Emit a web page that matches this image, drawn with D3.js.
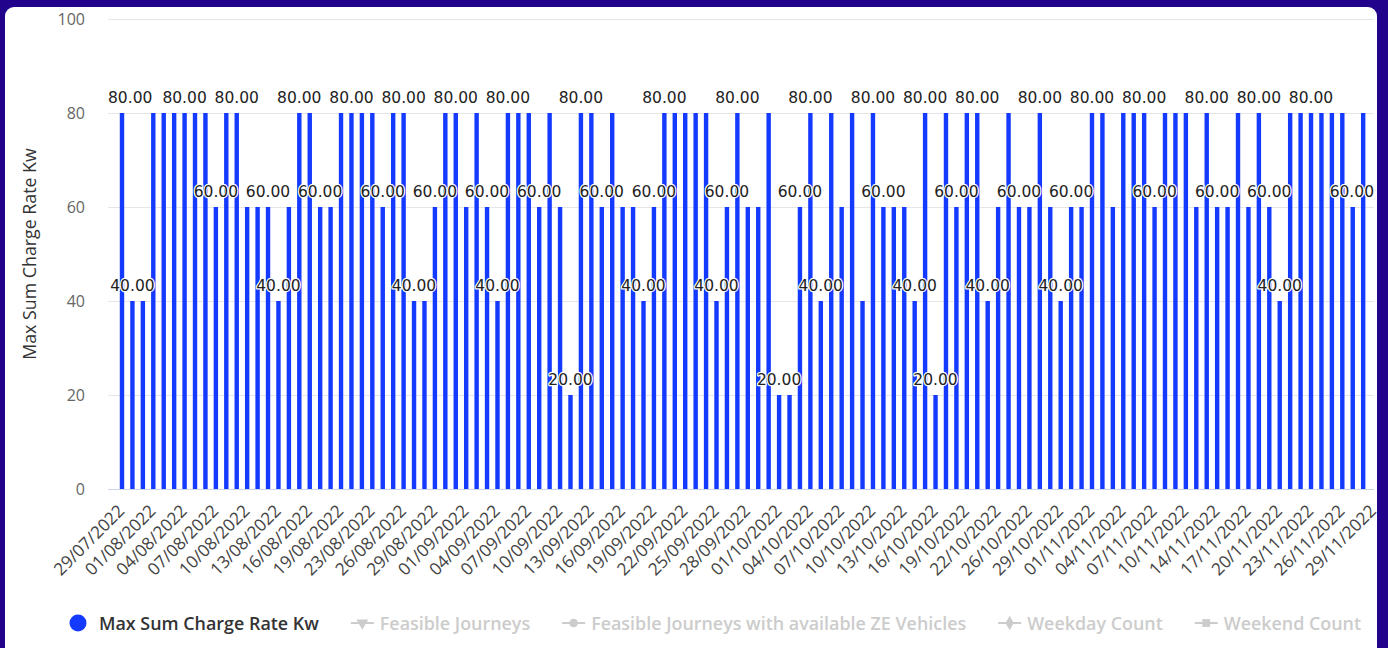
<!DOCTYPE html>
<html>
<head>
<meta charset="utf-8">
<script src="https://cdn.jsdelivr.net/npm/d3@7/dist/d3.min.js"></script>
<style>
  html, body { margin: 0; padding: 0; background: #22038b; overflow: hidden; }
  svg { display: block; }
</style>
</head>
<body>
<div id="chart"></div>
<script>
// DATA
////////////////////////////
// one category per day (a few days have no record at all)
var dates = [
  "29/07/2022","30/07/2022","31/07/2022",
  "01/08/2022","02/08/2022","03/08/2022","04/08/2022","05/08/2022","06/08/2022","07/08/2022","08/08/2022","09/08/2022","10/08/2022",
  "11/08/2022","12/08/2022","13/08/2022","14/08/2022","15/08/2022","16/08/2022","17/08/2022","18/08/2022","19/08/2022","20/08/2022",
  "22/08/2022","23/08/2022","24/08/2022","25/08/2022","26/08/2022","27/08/2022","28/08/2022","29/08/2022","30/08/2022","31/08/2022",
  "01/09/2022","02/09/2022","03/09/2022","04/09/2022","05/09/2022","06/09/2022","07/09/2022","08/09/2022","09/09/2022","10/09/2022",
  "11/09/2022","12/09/2022","13/09/2022","14/09/2022","15/09/2022","16/09/2022","17/09/2022","18/09/2022","19/09/2022","20/09/2022",
  "21/09/2022","22/09/2022","23/09/2022","24/09/2022","25/09/2022","26/09/2022","27/09/2022","28/09/2022","29/09/2022","30/09/2022",
  "01/10/2022","02/10/2022","03/10/2022","04/10/2022","05/10/2022","06/10/2022","07/10/2022","08/10/2022","09/10/2022","10/10/2022",
  "11/10/2022","12/10/2022","13/10/2022","14/10/2022","15/10/2022","16/10/2022","17/10/2022","18/10/2022","19/10/2022","20/10/2022",
  "21/10/2022","22/10/2022","24/10/2022","25/10/2022","26/10/2022","27/10/2022","28/10/2022","29/10/2022","30/10/2022","31/10/2022",
  "01/11/2022","02/11/2022","03/11/2022","04/11/2022","05/11/2022","06/11/2022","07/11/2022","08/11/2022","09/11/2022","10/11/2022",
  "11/11/2022","12/11/2022","14/11/2022","15/11/2022","16/11/2022","17/11/2022","18/11/2022","19/11/2022","20/11/2022","21/11/2022",
  "22/11/2022","23/11/2022","24/11/2022","25/11/2022","26/11/2022","27/11/2022","28/11/2022","29/11/2022"
];

// Max Sum Charge Rate Kw (null = nothing recorded)
var maxChargeRate = [
  80,40,40,80,80,80,80,80,80,60,
  80,80,60,60,60,40,60,80,80,60,
  60,80,80,80,80,60,80,80,40,40,
  60,80,80,60,80,60,40,80,80,80,
  60,80,60,20,80,80,60,80,60,60,
  40,60,80,80,80,80,80,40,60,80,
  60,60,80,20,20,60,80,40,80,60,
  80,40,80,60,60,60,40,80,20,80,
  60,80,80,40,60,80,60,60,80,60,
  40,60,60,80,80,60,80,80,80,60,
  80,80,80,60,80,60,60,80,60,80,
  60,40,80,80,80,80,80,80,60,80,
  null
];

var yTicks = [0, 20, 40, 60, 80, 100];

var legendNames = ["Max Sum Charge Rate Kw", "Feasible Journeys",
  "Feasible Journeys with available ZE Vehicles", "Weekday Count", "Weekend Count"];
var legendSymbols = ["circle", "triangle-down", "circle", "diamond", "square"];


// SETUP
////////////////////////////
var width = 1388,
    height = 648;

var plotLeft = 108, plotRight = 1374,
    plotTop = 19, plotBottom = 489;

var barColor = "#1439ff";

var svg = d3.select("#chart").append("svg")
    .attr("width", width)
    .attr("height", height);

// white card on the purple page
svg.append("rect")
    .attr("x", 5).attr("y", 7)
    .attr("width", 1372).attr("height", 680)
    .attr("rx", 9)
    .attr("fill", "#fff");

var x = d3.scalePoint()
    .domain(d3.range(dates.length))
    .range([122, 1373.6]);

var y = d3.scaleLinear()
    .domain([0, 100])
    .range([plotBottom, plotTop]);


// AXES
////////////////////////////
var yAxis = svg.append("g")
    .attr("transform", "translate(" + plotLeft + ",0)")
    .call(d3.axisLeft(y)
      .tickValues(yTicks)
      .tickSize(-(plotRight - plotLeft))
      .tickPadding(23));

yAxis.select(".domain").remove();
yAxis.selectAll("line").attr("stroke", "#e6e6e6");
yAxis.selectAll("text")
    .attr("fill", "#666")
    .style("font-family", "'Open Sans', sans-serif")
    .style("font-size", "16px");

// x axis line
svg.append("line")
    .attr("x1", plotLeft).attr("x2", plotRight)
    .attr("y1", plotBottom + 0.5).attr("y2", plotBottom + 0.5)
    .attr("stroke", "#ccd6eb");

var xAxis = svg.append("g")
    .attr("transform", "translate(0," + plotBottom + ")")
    .call(d3.axisBottom(x)
      .tickValues(d3.range(0, dates.length, 3))
      .tickFormat(function(i) { return dates[i]; })
      .tickSize(0));

xAxis.select(".domain").remove();
xAxis.selectAll("text")
    .attr("fill", "#444")
    .style("font-family", "'Open Sans', sans-serif")
    .style("font-size", "17.2px")
    .attr("text-anchor", "end")
    .attr("dy", 0)
    .attr("y", 0)
    .attr("transform", "translate(3,23) rotate(-45)");

// y axis title
svg.append("text")
    .attr("transform", "translate(36," + ((plotTop + plotBottom) / 2) + ") rotate(-90)")
    .attr("text-anchor", "middle")
    .attr("fill", "#333")
    .style("font-family", "'Open Sans', sans-serif")
    .style("font-size", "17.8px")
    .text("Max Sum Charge Rate Kw");


// BARS
////////////////////////////
var barData = maxChargeRate
    .map(function(v, i) { return {i: i, v: v}; })
    .filter(function(d) { return d.v != null; });

svg.append("g").selectAll("rect")
    .data(barData)
    .enter().append("rect")
      .attr("x", function(d) { return x(d.i) - 2.2; })
      .attr("width", 4.4)
      .attr("y", function(d) { return y(d.v); })
      .attr("height", function(d) { return plotBottom - y(d.v); })
      .attr("fill", barColor);


// DATA LABELS (hide the ones that overlap, left to right)
////////////////////////////
var labelG = svg.append("g");
var shown = [];

barData.forEach(function(d) {
  var t = labelG.append("text")
      .attr("text-anchor", "middle")
      .attr("y", y(d.v) - 10.5)
      .attr("fill", "#222")
      .attr("stroke", "#fff")
      .attr("stroke-width", 2.4)
      .attr("paint-order", "stroke")
      .attr("stroke-linejoin", "round")
      .style("font-family", "'DejaVu Sans', sans-serif")
      .style("font-size", "15.5px")
      .text(d3.format(".2f")(d.v));

  var w = t.node().getComputedTextLength();
  var cx = x(d.i);
  // keep the label inside the plot
  if (cx - w / 2 < plotLeft) cx = plotLeft + w / 2;
  if (cx + w / 2 > plotRight) cx = plotRight - w / 2;
  t.attr("x", cx);

  var box = {x1: cx - w / 2 - 1.5, x2: cx + w / 2 + 1.5, y1: y(d.v) - 26, y2: y(d.v) - 6};
  var hit = shown.some(function(b) {
    return box.x1 < b.x2 && box.x2 > b.x1 && box.y1 < b.y2 && box.y2 > b.y1;
  });
  if (hit) t.remove();
  else shown.push(box);
});


// LEGEND
////////////////////////////
var legend = svg.append("g").attr("transform", "translate(0,623)");
var lx = 66.5;

legendNames.forEach(function(name, k) {
  var g = legend.append("g").attr("transform", "translate(" + lx + ",0)");
  var col = k === 0 ? barColor : "#cccccc";
  var textX = 29;

  if (k === 0) {
    g.append("circle").attr("cx", 11.5).attr("cy", 0).attr("r", 8.5).attr("fill", col);
    textX = 32.5;
  } else {
    g.append("line").attr("x1", 0).attr("x2", 23).attr("y1", 0).attr("y2", 0)
      .attr("stroke", col).attr("stroke-width", 2);
    var sym = {
      "triangle-down": d3.symbolTriangle,
      "circle": d3.symbolCircle,
      "diamond": d3.symbolDiamond,
      "square": d3.symbolSquare
    }[legendSymbols[k]];
    g.append("path")
      .attr("d", d3.symbol().type(sym).size(60))
      .attr("transform", "translate(11.5,0)" + (legendSymbols[k] === "triangle-down" ? " rotate(180)" : ""))
      .attr("fill", col);
  }

  var t = g.append("text")
      .attr("x", textX)
      .attr("y", 6.5)
      .attr("fill", k === 0 ? "#333" : "#cccccc")
      .style("font-family", "'Open Sans', sans-serif")
      .style("font-weight", "600")
      .style("font-size", "17.9px")
      .text(name);

  lx += textX + t.node().getComputedTextLength() + 32;
});
</script>
</body>
</html>
